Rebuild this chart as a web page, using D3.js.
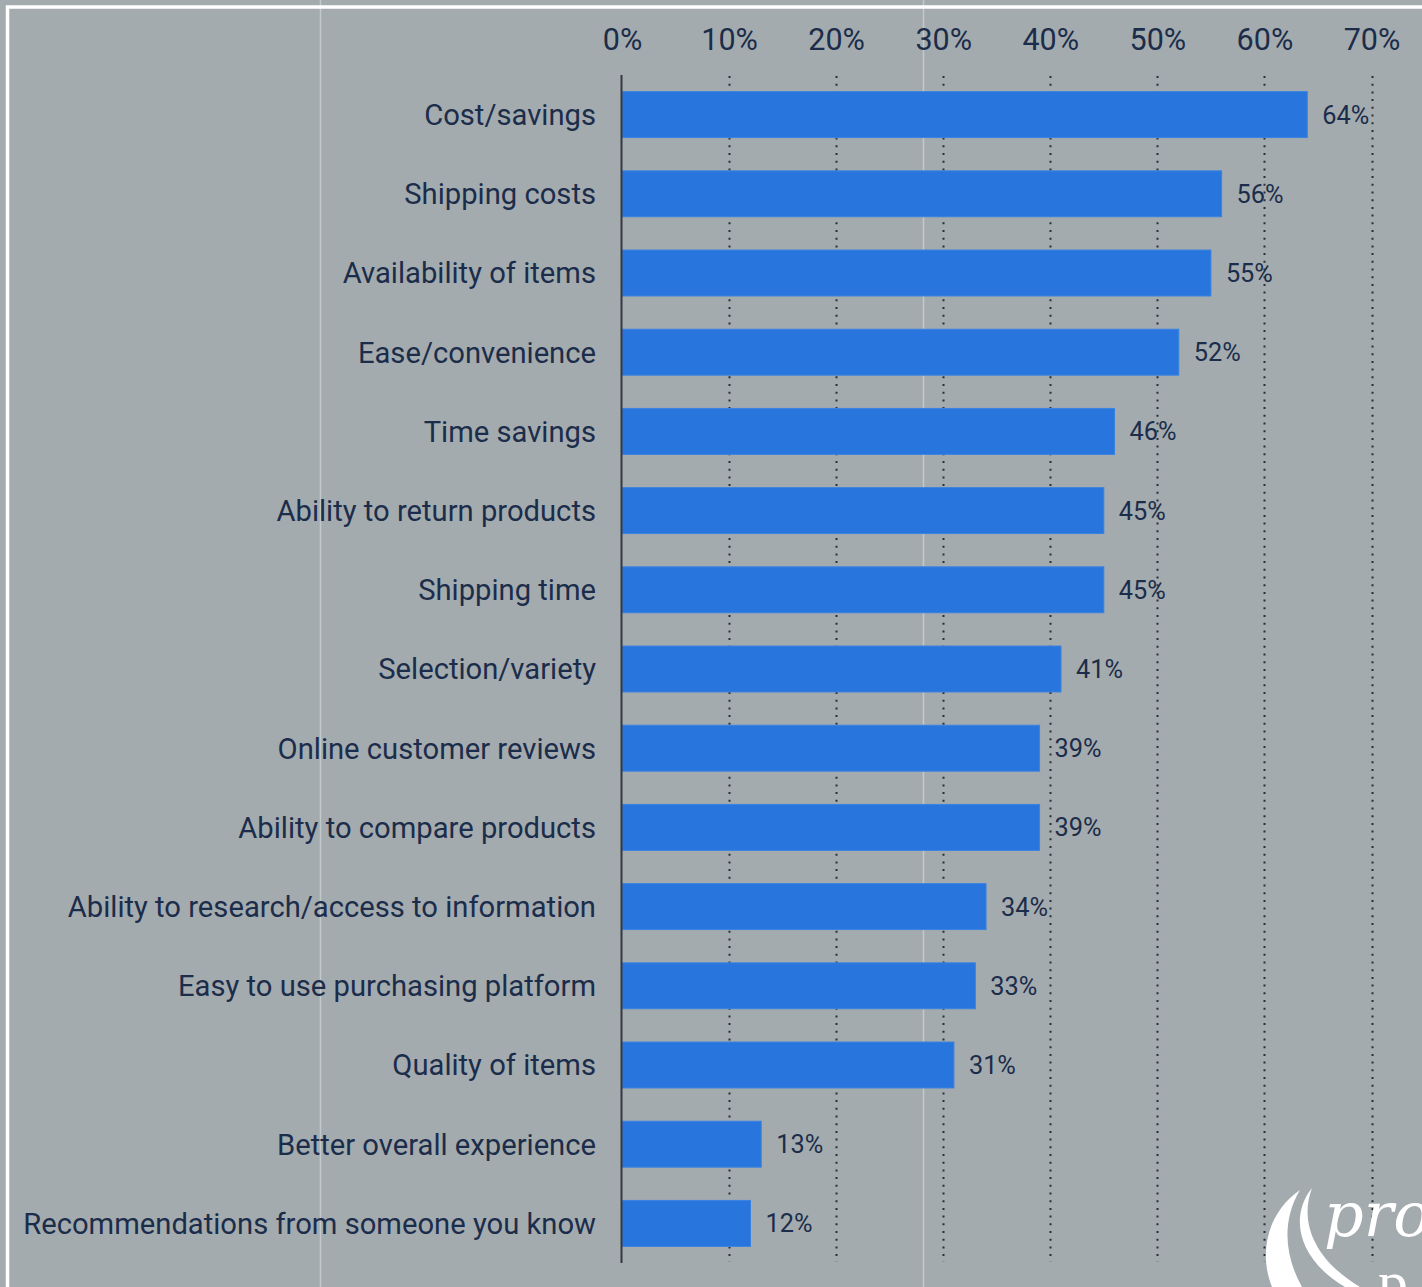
<!DOCTYPE html>
<html>
<head>
<meta charset="utf-8">
<script src="https://cdn.jsdelivr.net/npm/d3@7"></script>
<style>
html,body{margin:0;padding:0;background:#a4abaf;overflow:hidden;}
svg{display:block;}
</style>
</head>
<body>
<svg id="chart" width="1422" height="1287"></svg>
<script>
const categories = [
  "Cost/savings","Shipping costs","Availability of items","Ease/convenience","Time savings",
  "Ability to return products","Shipping time","Selection/variety","Online customer reviews",
  "Ability to compare products","Ability to research/access to information",
  "Easy to use purchasing platform","Quality of items","Better overall experience",
  "Recommendations from someone you know"
];
const values = [64,56,55,52,46,45,45,41,39,39,34,33,31,13,12];
const tickValues = [0,10,20,30,40,50,60,70];
const tickLabels = ["0%","10%","20%","30%","40%","50%","60%","70%"];

const svg = d3.select("#chart");
const W = 1422, H = 1287;
const textColor = "#1b2d4a";
const font = "Roboto, 'Liberation Sans', sans-serif";

svg.append("rect").attr("width",W).attr("height",H).attr("fill","#a4abaf");
// faint vertical artifacts
[320,923].forEach(x=>svg.append("line").attr("x1",x+0.5).attr("x2",x+0.5).attr("y1",0).attr("y2",H)
  .attr("stroke","#c3c8cb").attr("stroke-width",1.5));
// white frame
svg.append("rect").attr("x",7.5).attr("y",7).attr("width",W+20).attr("height",H+20)
  .attr("fill","none").attr("stroke","#ffffff").attr("stroke-width",3.5);

const x = d3.scaleLinear().domain([0,70]).range([622,1371.5]);
const y = d3.scaleBand().domain(categories).range([75,1263]).paddingInner(0.42).paddingOuter(0.21);

// value labels (under grid)
svg.append("g").selectAll("text").data(values).join("text")
  .attr("x",d=>x(d)+15).attr("y",(d,i)=>y(categories[i])+y.bandwidth()/2)
  .attr("dy","0.36em").attr("fill",textColor)
  .attr("font-family",font).attr("font-size",25).attr("textLength",47).attr("lengthAdjust","spacingAndGlyphs")
  .text(d=>d+"%");

// dotted grid
svg.append("g").selectAll("line").data(tickValues.slice(1)).join("line")
  .attr("x1",d=>Math.round(x(d))+0.5).attr("x2",d=>Math.round(x(d))+0.5)
  .attr("y1",76).attr("y2",1262)
  .attr("stroke","#2a2f36").attr("stroke-width",2).attr("stroke-dasharray","2,5.7");

// bars
svg.append("g").selectAll("rect").data(values).join("rect")
  .attr("x",x(0)).attr("y",(d,i)=>y(categories[i]))
  .attr("width",d=>x(d)-x(0)).attr("height",y.bandwidth())
  .attr("fill","#2775dd").attr("stroke","#3a82e0").attr("stroke-width",1);

// baseline axis
svg.append("line").attr("x1",621.5).attr("x2",621.5).attr("y1",75).attr("y2",1263)
  .attr("stroke","#333840").attr("stroke-width",2);

// top tick labels
const xAxis = d3.axisTop(x).tickValues(tickValues).tickFormat((d,i)=>tickLabels[i]).tickSize(0).tickPadding(0);
const gx = svg.append("g").attr("transform","translate(0,50)").call(xAxis);
gx.select(".domain").remove();
gx.selectAll("text").attr("fill",textColor).attr("font-size",30.5)
  .attr("font-family",font);

// category labels
const yAxis = d3.axisLeft(y).tickSize(0).tickPadding(0);
const gy = svg.append("g").attr("transform","translate(596,1)").call(yAxis);
gy.select(".domain").remove();
gy.selectAll("text").attr("fill",textColor).attr("font-size",29.2)
  .attr("font-family",font);

// logo (partial, cropped at right edge as in the source image)
const logo = svg.append("g").attr("fill","#ffffff");
logo.append("path").attr("d","M1300,1190 C1268,1212 1258,1252 1272,1287 L1302,1287 C1284,1255 1282,1220 1300,1190 Z");
logo.append("path").attr("d","M1312,1188 C1290,1215 1296,1258 1345,1287 L1360,1287 C1318,1262 1298,1225 1312,1188 Z");
logo.append("text").attr("x",1324).attr("y",1236).attr("font-family","'DejaVu Serif', 'Liberation Serif', serif")
  .attr("font-style","italic").attr("font-size",62).text("pro");
logo.append("text").attr("x",1378).attr("y",1302).attr("font-family","'Liberation Serif', serif")
  .attr("font-size",60).text("p");
</script>
</body>
</html>
